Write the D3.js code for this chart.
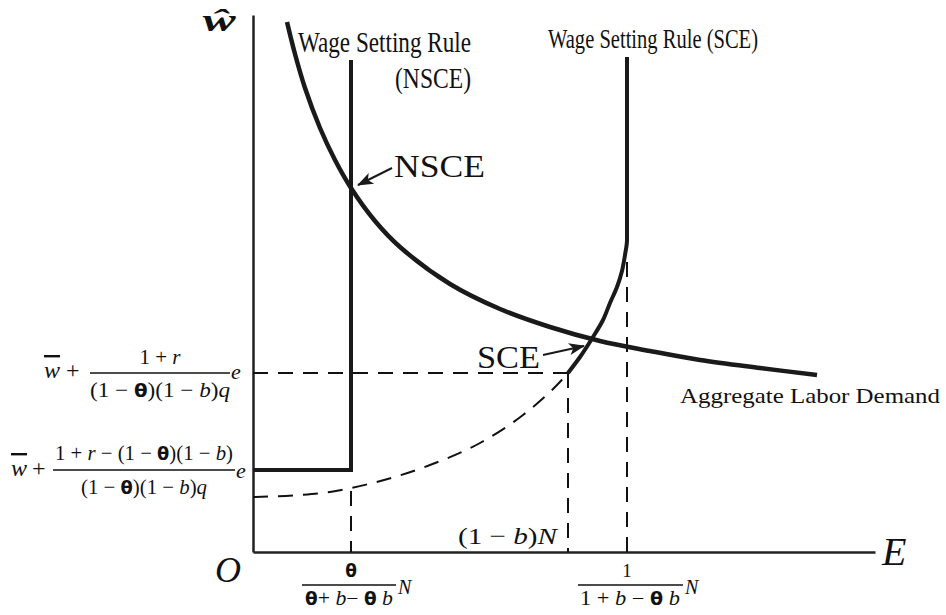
<!DOCTYPE html>
<html lang="en">
<head>
<meta charset="utf-8">
<script src="https://d3js.org/d3.v7.min.js"></script>
<style>
  body { margin: 0; background: #fff; }
  svg text { font-family: "Liberation Serif", serif; fill: #111; }
  .it { font-style: italic; }
  .th { font-family: "DejaVu Sans", sans-serif; font-weight: bold; font-style: normal; }
  .bar { text-decoration: overline; }
</style>
</head>
<body>
<svg id="chart" width="946" height="615"></svg>
<script>
// values (E = employment, w = wage, arbitrary units)
var demandE = [3.4, 4.2, 5.2, 6.7, 8.2, 9.8, 12.2, 14.7, 19.7, 24.7, 29.7, 34.7, 39.7, 44.7, 50.7, 56.4];
var demandW = [53.0, 49.8, 46.4, 42.4, 39.2, 36.4, 33.1, 30.5, 26.8, 24.3, 22.5, 21.1, 20.1, 19.2, 18.4, 17.7];

var nsceE = [0, 9.8, 9.8];
var nsceW = [8.2, 8.2, 49.2];

var sceE = [31.5, 32.7, 34.0, 35.0, 35.7, 36.4, 36.9, 37.2, 37.4, 37.4, 37.4];
var sceW = [17.9, 19.5, 21.5, 23.2, 24.9, 26.5, 28.1, 29.7, 31.2, 32.4, 49.5];

var dashE = [0, 4.7, 7.7, 9.8, 17.7, 22.7, 27.0, 30.4, 31.5];
var dashW = [5.5, 5.7, 6.0, 6.4, 8.7, 10.9, 13.7, 16.7, 17.9];

// guide segments [E1, w1, E2, w2]
var guides = [
  [0, 17.9, 31.5, 17.9],
  [31.5, 17.9, 31.5, 0],
  [37.4, 29.0, 37.4, 0],
  [9.8, 6.1, 9.8, 0]
];

// arrows [fromE, fromW, toE, toW]
var arrows = [
  [13.9, 38.4, 10.5, 36.7],
  [29.0, 19.7, 33.1, 20.6]
];

var svg = d3.select("#chart");
var x = d3.scaleLinear().domain([0, 62.2]).range([253, 875]);
var y = d3.scaleLinear().domain([0, 53.7]).range([552, 15]);

function zip(a, b) { return a.map(function(v, i) { return [v, b[i]]; }); }

// axes without ticks
var xAxis = svg.append("g").attr("transform", "translate(0," + y(0) + ")")
  .call(d3.axisBottom(x).tickValues([]).tickSizeOuter(0));
var yAxis = svg.append("g").attr("transform", "translate(" + x(0) + ",0)")
  .call(d3.axisLeft(y).tickValues([]).tickSizeOuter(0));
svg.selectAll(".domain").attr("stroke", "#222").attr("stroke-width", 2.5);

var line = d3.line().x(function(d) { return x(d[0]); }).y(function(d) { return y(d[1]); });

// dashed guides
svg.selectAll(".guide").data(guides).enter().append("line")
  .attr("class", "guide")
  .attr("x1", function(d) { return x(d[0]); })
  .attr("y1", function(d) { return y(d[1]); })
  .attr("x2", function(d) { return x(d[2]); })
  .attr("y2", function(d) { return y(d[3]); })
  .attr("stroke", "#111").attr("stroke-width", 2)
  .attr("stroke-dasharray", "15,10");

svg.append("path")
  .datum(zip(dashE, dashW))
  .attr("d", line.curve(d3.curveMonotoneX))
  .attr("fill", "none").attr("stroke", "#111").attr("stroke-width", 2)
  .attr("stroke-dasharray", "15,10");

// aggregate labour demand
svg.append("path")
  .datum(zip(demandE, demandW))
  .attr("d", line.curve(d3.curveCatmullRom))
  .attr("fill", "none").attr("stroke", "#1a1a1a").attr("stroke-width", 4.5);

// wage setting rules
svg.append("path")
  .datum(zip(nsceE, nsceW))
  .attr("d", line.curve(d3.curveLinear))
  .attr("fill", "none").attr("stroke", "#1a1a1a").attr("stroke-width", 4);

svg.append("path")
  .datum(zip(sceE, sceW))
  .attr("d", line.curve(d3.curveMonotoneY))
  .attr("fill", "none").attr("stroke", "#1a1a1a").attr("stroke-width", 4);

// arrows
svg.append("defs").append("marker")
  .attr("id", "head").attr("viewBox", "0 -7 16 14")
  .attr("refX", 15).attr("refY", 0)
  .attr("markerWidth", 16).attr("markerHeight", 14)
  .attr("markerUnits", "userSpaceOnUse").attr("orient", "auto")
  .append("path").attr("d", "M0,-6 L16,0 L0,6 L4,0 Z").attr("fill", "#1a1a1a");

svg.selectAll(".arrow").data(arrows).enter().append("line")
  .attr("x1", function(d) { return x(d[0]); })
  .attr("y1", function(d) { return y(d[1]); })
  .attr("x2", function(d) { return x(d[2]); })
  .attr("y2", function(d) { return y(d[3]); })
  .attr("stroke", "#1a1a1a").attr("stroke-width", 2)
  .attr("marker-end", "url(#head)");

// text helpers
function mtext(px, py, parts, size, anchor, len) {
  var t = svg.append("text").attr("x", px).attr("y", py)
    .attr("font-size", size).attr("text-anchor", anchor || "start");
  if (len) t.attr("textLength", len).attr("lengthAdjust", "spacingAndGlyphs");
  parts.forEach(function(p) {
    var s = t.append("tspan").text(p[0]);
    if (p[1]) s.attr("class", p[1]);
    if (p[2]) s.attr("font-size", p[2]);
  });
  return t;
}
function rule(x1, x2, yy) {
  svg.append("line").attr("x1", x1).attr("x2", x2).attr("y1", yy).attr("y2", yy)
    .attr("stroke", "#111").attr("stroke-width", 1.4);
}

// axis labels
mtext(203, 31, [["\u0175", "it"]], 32, "start", 33).attr("font-weight", "bold");
mtext(215, 582, [["O", "it"]], 36);
mtext(882, 565, [["E", "it"]], 40);

// curve labels
mtext(298, 52, [["Wage Setting Rule"]], 29, "start", 173);
mtext(471, 88, [["(NSCE)"]], 29, "end", 76);
mtext(548, 48, [["Wage Setting Rule (SCE)"]], 27, "start", 210);
mtext(394, 177, [["NSCE"]], 32, "start", 91);
mtext(477, 368, [["SCE"]], 31, "start", 63);
mtext(680, 403, [["Aggregate Labor Demand"]], 22, "start", 260);
mtext(458, 544, [["(1 \u2212 "], ["b", "it"], [")"], ["N", "it"]], 24, "start", 99);

// left tick labels
mtext(44, 378, [["w", "it bar"]], 24);
mtext(66, 378, [["+"]], 24);
mtext(160, 364, [["1 + "], ["r", "it"]], 21, "middle");
rule(90, 230, 373);
mtext(160, 397, [["(1 \u2212 "], ["\u03b8", "th", 18], [")(1 \u2212 "], ["b", "it"], [")"], ["q", "it"]], 21, "middle", 140);
mtext(231, 379, [["e", "it"]], 22);

mtext(11, 476, [["w", "it bar"]], 24);
mtext(32, 476, [["+"]], 24);
mtext(144, 460, [["1 + "], ["r", "it"], [" \u2212 (1 \u2212 "], ["\u03b8", "th", 18], [")(1 \u2212 "], ["b", "it"], [")"]], 21, "middle", 178);
rule(53, 235, 470);
mtext(144, 494, [["(1 \u2212 "], ["\u03b8", "th", 18], [")(1 \u2212 "], ["b", "it"], [")"], ["q", "it"]], 21, "middle", 126);
mtext(236, 478, [["e", "it"]], 22);

// bottom tick labels
mtext(351, 577, [["\u03b8", "th", 17]], 19, "middle");
rule(302, 396, 585);
mtext(349, 605, [["\u03b8", "th", 17], ["+ "], ["b", "it"], ["\u2212 "], ["\u03b8", "th", 17], [" "], ["b", "it"]], 20, "middle", 88);
mtext(398, 594, [["N", "it"]], 20);

mtext(627, 577, [["1"]], 19, "middle");
rule(578, 683, 585);
mtext(630, 605, [["1 + "], ["b", "it"], [" \u2212 "], ["\u03b8", "th", 17], [" "], ["b", "it"]], 20, "middle", 100);
mtext(685, 594, [["N", "it"]], 20);
</script>
</body>
</html>
